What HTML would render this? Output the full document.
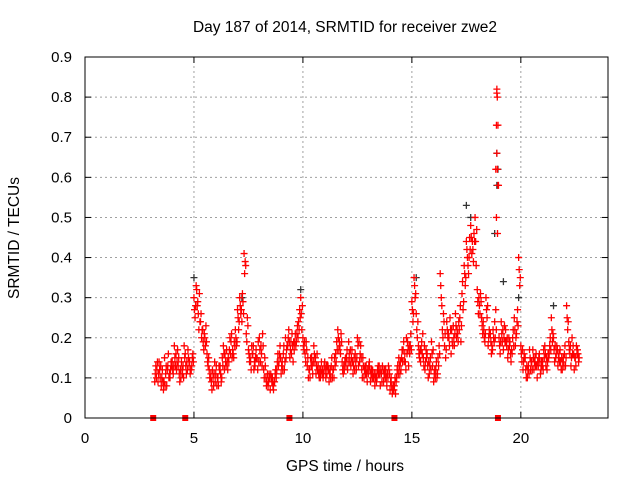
<!DOCTYPE html>
<html><head><meta charset="utf-8"><style>
body{margin:0;background:#fff;}
svg{display:block;font-family:"Liberation Sans",sans-serif;}
</style></head><body>
<svg id="chart" width="640" height="480" viewBox="0 0 640 480" xmlns="http://www.w3.org/2000/svg">
<rect width="640" height="480" fill="#fff"/>
<text x="345" y="32" font-size="15.5" text-anchor="middle">Day 187 of 2014, SRMTID for receiver zwe2</text>
<text x="345" y="471" font-size="15.5" text-anchor="middle">GPS time / hours</text>
<text x="19" y="238" font-size="15.5" text-anchor="middle" transform="rotate(-90 19 238)">SRMTID / TECUs</text>
<g id="grid"></g><g id="marks"></g><g id="axes"></g>
</svg>
<script>
const xTicks=[0,5,10,15,20];
const yTicks=[0,0.1,0.2,0.3,0.4,0.5,0.6,0.7,0.8,0.9];
const yTickLabels=["0","0.1","0.2","0.3","0.4","0.5","0.6","0.7","0.8","0.9"];
const seriesStart=3.2, seriesStep=0.1;
const seriesA=[.09,.12,.14,.08,.07,.11,.13,.10,
.14,.18,.12,.15,.10,.13,.16,.12,.14,.13,
.30,.33,.26,.24,.22,.20,.16,.12,.09,.08,
.11,.10,.13,.15,.12,.17,.14,.19,.16,.22,
.27,.30,.24,.41,.21,.17,.14,.16,.13,.15,
.20,.16,.12,.10,.08,.07,.10,.09,.12,.14,
.11,.16,.20,.18,.15,.21,.17,.19,.24,.30,
.20,.16,.13,.12,.15,.18,.11,.13,.10,.12,
.14,.11,.09,.13,.12,.16,.22,.18,.14,.12,
.15,.19,.13,.11,.16,.20,.14,.12,.10,.13,
.11,.09,.12,.08,.10,.13,.11,.09,.12,.10,
.07,.06,.08,.10,.15,.12,.17,.14,.19,.16,
.29,.35,.26,.18,.14,.21,.12,.16,.11,.19,
.09,.12,.15,.36,.22,.18,.24,.20,.16,.23,
.26,.21,.25,.31,.38,.44,.36,.48,.42,.50,
.32,.28,.25,.22,.30,.18,.21,.17,.24,.82,
.20,.24,.17,.22,.15,.19,.16,.25,.21,.40,
.18,.12,.15,.10,.17,.14,.12,.16,.13,.11,
.14,.18,.12,.16,.25,.20,.15,.13,.17,.12,
.16,.28,.19,.13,.18,.15,.17];
const seriesB=[.13,.09,.10,.12,.15,.08,.10,.14,
.11,.13,.17,.09,.12,.18,.11,.15,.12,.16,
.25,.28,.31,.20,.17,.23,.13,.10,.12,.14,
.08,.13,.09,.18,.14,.12,.20,.15,.19,.18,
.22,.26,.29,.39,.25,.14,.18,.12,.17,.19,
.14,.21,.15,.09,.11,.10,.07,.12,.16,.18,
.14,.12,.17,.22,.19,.14,.21,.23,.27,.22,
.17,.19,.10,.15,.11,.14,.16,.10,.14,.11,
.10,.13,.12,.10,.15,.19,.17,.21,.11,.15,
.12,.14,.17,.15,.12,.13,.18,.15,.13,.09,
.14,.12,.10,.11,.13,.08,.13,.12,.08,.12,
.10,.08,.06,.13,.11,.17,.14,.20,.13,.21,
.24,.30,.20,.15,.19,.13,.17,.10,.15,.13,
.12,.10,.18,.30,.26,.15,.20,.25,.19,.18,
.20,.24,.19,.27,.33,.40,.45,.41,.46,.38,
.26,.31,.21,.19,.25,.22,.16,.20,.27,.73,
.16,.19,.23,.18,.20,.14,.22,.18,.27,.33,
.14,.16,.10,.13,.12,.17,.15,.10,.16,.14,
.17,.13,.16,.20,.19,.14,.18,.16,.12,.15,
.13,.22,.16,.20,.12,.18,.14];
const seriesC=[.11,.14,.12,.10,.09,.13,.16,.12,
.12,.15,.14,.11,.14,.10,.13,.17,.11,.15,
.27,.32,.22,.26,.19,.18,.14,.10,.07,.11,
.13,.08,.11,.13,.16,.14,.17,.21,.15,.20,
.25,.28,.31,.36,.19,.16,.12,.18,.15,.12,
.17,.13,.10,.08,.09,.11,.08,.11,.14,.16,
.13,.18,.15,.20,.17,.18,.19,.21,.22,.26,
.18,.14,.15,.10,.13,.16,.13,.11,.12,.10,
.12,.13,.11,.15,.10,.14,.20,.16,.12,.14,
.17,.16,.15,.13,.14,.18,.16,.10,.12,.11,
.13,.11,.10,.10,.12,.11,.09,.11,.10,.13,
.09,.07,.10,.12,.13,.15,.19,.12,.17,.18,
.27,.33,.22,.16,.17,.15,.14,.13,.13,.16,
.11,.14,.13,.33,.20,.21,.22,.18,.22,.20,
.23,.19,.28,.34,.36,.42,.40,.45,.39,.44,
.29,.26,.23,.20,.27,.20,.19,.22,.20,.62,
.18,.21,.20,.19,.17,.16,.20,.22,.24,.37,
.16,.14,.12,.12,.15,.12,.14,.13,.15,.12,
.12,.16,.14,.18,.22,.17,.16,.15,.14,.14,
.18,.25,.17,.15,.16,.13,.16];
const seriesD=[.10,.11,.13,.09,.08,.12,.11,.13,
.13,.16,.13,.12,.11,.15,.14,.13,.12,.14,
.28,.29,.24,.22,.21,.19,.15,.11,.10,.09,
.10,.12,.10,.16,.13,.15,.16,.17,.18,.19,
.24,.27,.26,.38,.23,.15,.16,.14,.15,.14,
.18,.18,.13,.11,.10,.09,.09,.10,.13,.15,
.12,.14,.18,.19,.16,.19,.18,.20,.25,.28,
.19,.17,.12,.13,.14,.15,.12,.12,.11,.13,
.13,.12,.10,.12,.13,.17,.19,.19,.13,.13,
.14,.17,.14,.12,.15,.19,.15,.13,.11,.12,
.12,.10,.11,.09,.11,.12,.12,.10,.11,.11,
.08,.07,.09,.11,.14,.14,.16,.16,.18,.17,
.26,.31,.24,.17,.16,.18,.15,.14,.12,.17,
.10,.11,.16,.28,.24,.17,.21,.22,.18,.21,
.22,.22,.23,.29,.35,.38,.42,.44,.44,.47,
.30,.29,.24,.21,.28,.21,.18,.19,.22,.58,
.19,.22,.19,.20,.18,.17,.18,.20,.23,.35,
.17,.15,.13,.11,.14,.15,.13,.14,.14,.13,
.15,.15,.15,.17,.21,.18,.17,.14,.15,.13,
.15,.24,.18,.16,.15,.16,.15];
const spikeTimes=[18.9,18.92,18.88,18.9,18.85,18.95,18.88,18.93];
const spikeValues=[.81,.80,.73,.66,.62,.58,.50,.46];
const blackTimes=[5.0,7.2,9.9,17.5,17.7,18.9,18.95,18.9,18.8,19.9,21.5,15.2,19.2];
const blackValues=[.35,.30,.32,.53,.50,.66,.62,.58,.46,.30,.28,.35,.34];
const gapTimes=[3.13,4.6,9.38,14.2,18.95];

const X0=85,X1=608,Y0=418,Y1=57;
const xScale=t=>X0+(t/24)*(X1-X0);
const yScale=v=>Y0-(v/0.9)*(Y0-Y1);
const NS="http://www.w3.org/2000/svg";
function mk(tag,attrs,parent){const e=document.createElementNS(NS,tag);for(const k in attrs)e.setAttribute(k,attrs[k]);parent.appendChild(e);return e;}
const grid=document.getElementById('grid'),marks=document.getElementById('marks'),axes=document.getElementById('axes');
yTicks.forEach((v,i)=>{const y=yScale(v);
 if(i>0&&i<yTicks.length-1){const g=mk('line',{x1:X0,x2:X1,y1:y,y2:y,stroke:'#a0a0a0','stroke-dasharray':'2,3'},grid);
 
 }
 mk('line',{x1:X0,x2:X0+6,y1:y,y2:y,stroke:'#000'},axes);
 mk('line',{x1:X1,x2:X1-6,y1:y,y2:y,stroke:'#000'},axes);
 const t=mk('text',{x:72,y:y+5,'font-size':15,'text-anchor':'end'},axes);t.textContent=yTickLabels[i];
 
 
});
xTicks.forEach((v,i)=>{const x=xScale(v);
 if(i>0){const g=mk('line',{x1:x,x2:x,y1:Y0,y2:Y1,stroke:'#a0a0a0','stroke-dasharray':'2,3'},grid);
 
 }
 mk('line',{x1:x,x2:x,y1:Y0,y2:Y0-6,stroke:'#000'},axes);
 mk('line',{x1:x,x2:x,y1:Y1,y2:Y1+6,stroke:'#000'},axes);
 const t=mk('text',{x:x,y:443,'font-size':15,'text-anchor':'middle'},axes);t.textContent=String(v);
 
 
});
const box=mk('rect',{x:X0,y:Y1,width:X1-X0,height:Y0-Y1,fill:'none',stroke:'#000'},axes);


function crosses(ts,vs,color,name){let d='';
 for(let i=0;i<vs.length;i++){const x=xScale(ts[i]),y=yScale(vs[i]);d+=`M${x-3.5},${y}h7M${x},${y-3.5}v7`;}
 const p=mk('path',{d:d,stroke:color,'stroke-width':1.3,fill:'none'},marks);
 
 }
const tA=seriesA.map((_,i)=>seriesStart+i*seriesStep);
const tB=seriesB.map((_,i)=>seriesStart+0.05+i*seriesStep);
const tC=seriesC.map((_,i)=>seriesStart+0.025+i*seriesStep);
const tD=seriesD.map((_,i)=>seriesStart+0.075+i*seriesStep);
crosses(blackTimes,blackValues,'#333','black-series-points');
crosses(tA,seriesA,'#f00','srmtid-points-a');
crosses(tB,seriesB,'#f00','srmtid-points-b');
crosses(tC,seriesC,'#f00','srmtid-points-c');
crosses(tD,seriesD,'#f00','srmtid-points-d');
crosses(spikeTimes,spikeValues,'#f00','srmtid-spike-points');
gapTimes.forEach(t=>{const r=mk('rect',{x:xScale(t)-3,y:Y0-3,width:6,height:6,fill:'#f00'},marks);
 
 });
</script>
</body></html>
